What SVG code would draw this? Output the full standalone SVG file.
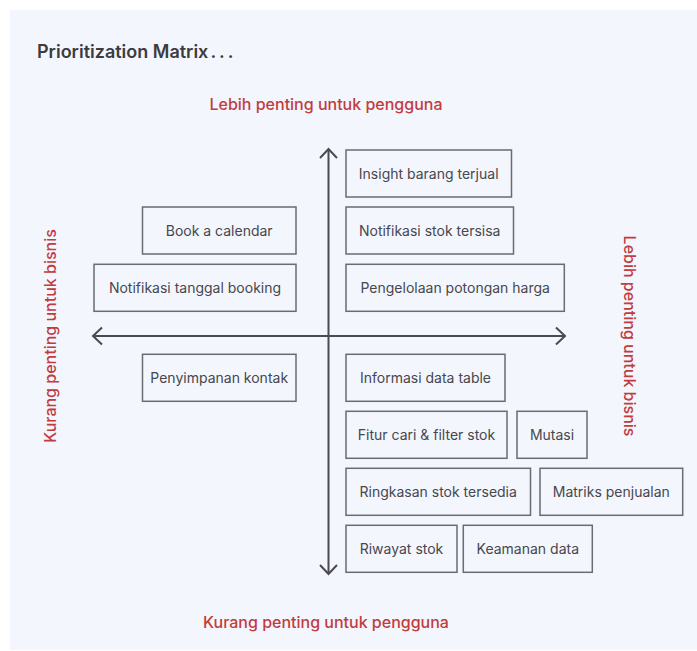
<svg xmlns="http://www.w3.org/2000/svg" width="697" height="651" viewBox="0 0 697 651">
<style>
.box{fill:none;stroke:#6b6b70;stroke-width:1.5}
.t{font-family:Inter,"Noto Sans",sans-serif;font-size:14px;fill:#47474d;text-anchor:middle;dominant-baseline:central}
.red{font-family:Inter,"Noto Sans",sans-serif;font-size:16px;font-weight:500;fill:#c23c3e;text-anchor:middle;dominant-baseline:central}
.axis{stroke:#4a4a50;stroke-width:2;fill:none}
</style>
<rect x="0" y="0" width="697" height="651" fill="#ffffff"/>
<rect x="10" y="10" width="687" height="640" fill="#f3f6fd"/>
<text x="37" y="58" font-family="Inter,'Noto Sans',sans-serif" font-size="18" font-weight="600" fill="#3c3c40">Prioritization Matrix<tspan letter-spacing="3" dx="2">...</tspan></text>
<text class="red" x="326" y="104">Lebih penting untuk pengguna</text>
<text class="red" x="326" y="622">Kurang penting untuk pengguna</text>
<text class="red" transform="translate(50,336) rotate(-90)">Kurang penting untuk bisnis</text>
<text class="red" transform="translate(630,336) rotate(90)">Lebih penting untuk bisnis</text>
<g id="connectors">
<line class="axis" x1="328.5" y1="149" x2="328.5" y2="574"/>
<polyline class="axis" points="320,158 328.5,149 337,158"/>
<polyline class="axis" points="320,565 328.5,574 337,565"/>
<line class="axis" x1="93" y1="336" x2="565" y2="336"/>
<polyline class="axis" points="102,327.5 93,336 102,344.5"/>
<polyline class="axis" points="556,327.5 565,336 556,344.5"/>
</g>
<g id="n1"><rect class="box" x="346" y="150" width="165.5" height="47"/><text class="t" x="428.7" y="173.5">Insight barang terjual</text></g>
<g id="n2"><rect class="box" x="346" y="207" width="167.5" height="47"/><text class="t" x="429.7" y="230.5">Notifikasi stok tersisa</text></g>
<g id="n3"><rect class="box" x="346" y="264.3" width="218.3" height="47"/><text class="t" x="455.2" y="287.8">Pengelolaan potongan harga</text></g>
<g id="n4"><rect class="box" x="142.5" y="207" width="153.5" height="47"/><text class="t" x="219.2" y="230.5">Book a calendar</text></g>
<g id="n5"><rect class="box" x="94" y="264.3" width="202" height="47"/><text class="t" x="195" y="287.8">Notifikasi tanggal booking</text></g>
<g id="n6"><rect class="box" x="142.5" y="354.3" width="153.5" height="47"/><text class="t" x="219.2" y="377.8">Penyimpanan kontak</text></g>
<g id="n7"><rect class="box" x="346" y="354.3" width="159" height="47"/><text class="t" x="425.5" y="377.8">Informasi data table</text></g>
<g id="n8"><rect class="box" x="346" y="411.3" width="161" height="47"/><text class="t" x="426.5" y="434.8">Fitur cari &amp; filter stok</text></g>
<g id="n9"><rect class="box" x="517" y="411.3" width="70" height="47"/><text class="t" x="552" y="434.8">Mutasi</text></g>
<g id="n10"><rect class="box" x="346" y="468.3" width="184.5" height="47"/><text class="t" x="438.2" y="491.8">Ringkasan stok tersedia</text></g>
<g id="n11"><rect class="box" x="540" y="468.3" width="142.7" height="47"/><text class="t" x="611.3" y="491.8">Matriks penjualan</text></g>
<g id="n12"><rect class="box" x="346" y="525.3" width="111" height="47"/><text class="t" x="401.5" y="548.8">Riwayat stok</text></g>
<g id="n13"><rect class="box" x="463.3" y="525.3" width="129" height="47"/><text class="t" x="527.8" y="548.8">Keamanan data</text></g>
</svg>
